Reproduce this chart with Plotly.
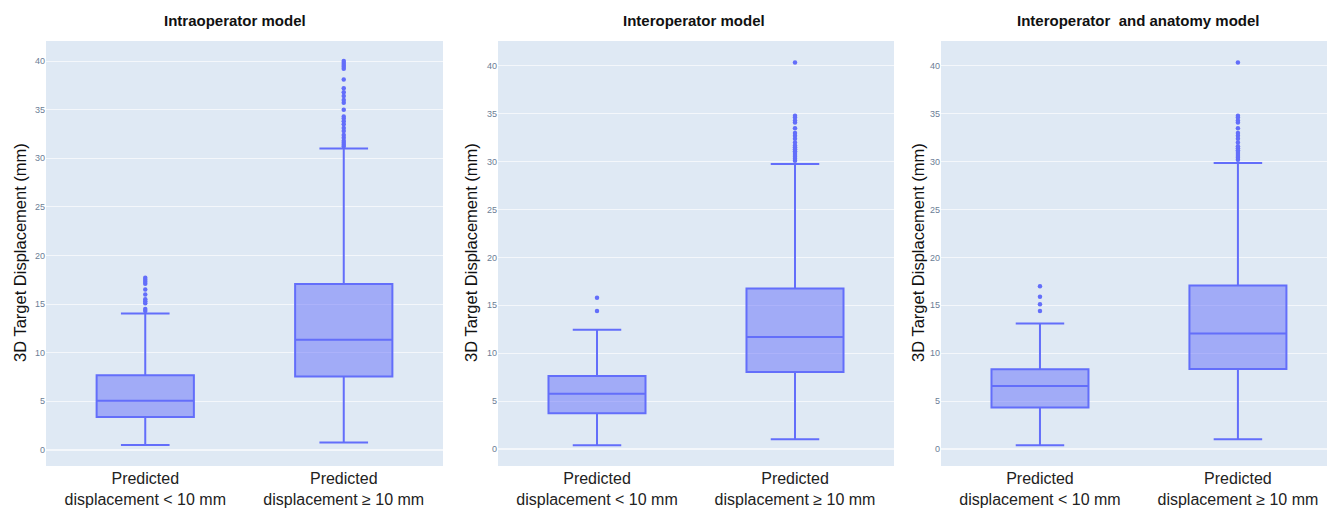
import plotly.graph_objects as go
from plotly.subplots import make_subplots

categories = ["Predicted<br>displacement < 10 mm", "Predicted<br>displacement ≥ 10 mm"]
titles = ["Intraoperator model", "Interoperator model", "Interoperator  and anatomy model"]

# box statistics per panel: [low group, high group]
q1 = [[3.38, 7.55], [3.74, 8.04], [4.34, 8.36]]
median = [[5.07, 11.34], [5.77, 11.68], [6.57, 12.06]]
q3 = [[7.69, 17.07], [7.62, 16.75], [8.32, 17.06]]
lowerfence = [[0.52, 0.76], [0.38, 1.01], [0.38, 1.01]]
upperfence = [[14.03, 31.0], [12.45, 29.76], [13.11, 29.86]]

# outliers per panel
out_low = [
    [14.3, 14.5, 15.1, 15.3, 15.5, 16.0, 16.5, 17.1, 17.3, 17.5, 17.7],
    [14.4, 15.8],
    [14.4, 15.1, 15.9, 17.0],
]
out_high = [
    [31.2, 31.4, 31.6, 31.8, 32.1, 32.4, 32.8, 33.1, 33.5, 33.8, 34.1, 34.3, 35.0,
     35.7, 36.0, 36.4, 36.8, 37.2, 38.1, 39.2, 39.4, 39.6, 39.8, 40.0],
    [30.1, 30.3, 30.5, 30.7, 30.9, 31.1, 31.3, 31.5, 31.7, 32.0, 32.4, 32.7, 33.0,
     33.5, 34.1, 34.3, 34.6, 34.8, 40.35],
    [30.2, 30.4, 30.6, 30.8, 31.0, 31.2, 31.4, 31.6, 32.0, 32.4, 32.7, 33.0,
     33.5, 34.1, 34.3, 34.6, 34.8, 40.35],
]

W, H = 1327, 508
T, B = 41, 42
PH = H - T - B
x_domains = [[46 / W, 443 / W], [498 / W, 894 / W], [941 / W, 1.0]]
x_ranges = [[-0.5, 1.5], [-0.5, 1.5], [-0.5, 1.45]]
y_ranges = [[-1.65, 42.06], [-1.78, 42.6], [-1.78, 42.6]]
title_x = [235, 694, 1138]
ylabel_x = [20, 471, 918]

color = "#636efa"
fig = make_subplots(rows=1, cols=3)

for i in range(3):
    fig.add_trace(go.Box(
        x=categories, q1=q1[i], median=median[i], q3=q3[i],
        lowerfence=lowerfence[i], upperfence=upperfence[i],
        boxpoints=False, width=0.49, marker_color=color,
        line=dict(color=color, width=2), showlegend=False,
    ), row=1, col=i + 1)
    fig.add_trace(go.Scatter(
        x=[categories[0]] * len(out_low[i]) + [categories[1]] * len(out_high[i]),
        y=out_low[i] + out_high[i],
        mode="markers", marker=dict(color=color, size=4.5),
        showlegend=False,
    ), row=1, col=i + 1)

    xa = "xaxis" if i == 0 else f"xaxis{i + 1}"
    ya = "yaxis" if i == 0 else f"yaxis{i + 1}"
    fig.layout[xa].update(
        domain=x_domains[i], range=x_ranges[i], automargin=False,
        showgrid=False, ticklabelstandoff=1,
        tickfont=dict(size=16, color="#222222", family="Liberation Sans, Arial"),
        categoryorder="array", categoryarray=categories,
    )
    fig.layout[ya].update(
        range=y_ranges[i], dtick=5, automargin=False,
        gridcolor="#f4f7fb", zerolinecolor="#f4f7fb", zerolinewidth=2,
        tickfont=dict(size=9, color="#6b7d96", family="Liberation Sans, Arial"),
    )
    fig.add_annotation(
        text=f"<b>{titles[i]}</b>", x=title_x[i] / W, y=(H - B - 21) / PH,
        xref="paper", yref="paper",
        yanchor="middle", xanchor="center", showarrow=False,
        font=dict(size=15, color="#111111", family="Liberation Sans, Arial"),
    )
    fig.add_annotation(
        text="3D Target Displacement (mm)", x=ylabel_x[i] / W, y=(H - B - 253) / PH,
        xref="paper", yref="paper", xanchor="center", yanchor="middle",
        textangle=-90, showarrow=False,
        font=dict(size=16.5, color="#111111", family="Liberation Sans, Arial"),
    )

fig.update_layout(
    width=W, height=H,
    margin=dict(l=0, r=0, t=T, b=B),
    paper_bgcolor="white", plot_bgcolor="#dfe9f4",
    yaxis_domain=[0, 1], yaxis2_domain=[0, 1], yaxis3_domain=[0, 1],
)

fig.write_html(
    "out.html",
    config={"displayModeBar": False},
    post_script="document.body.style.margin='0';document.body.style.overflow='hidden';",
)
